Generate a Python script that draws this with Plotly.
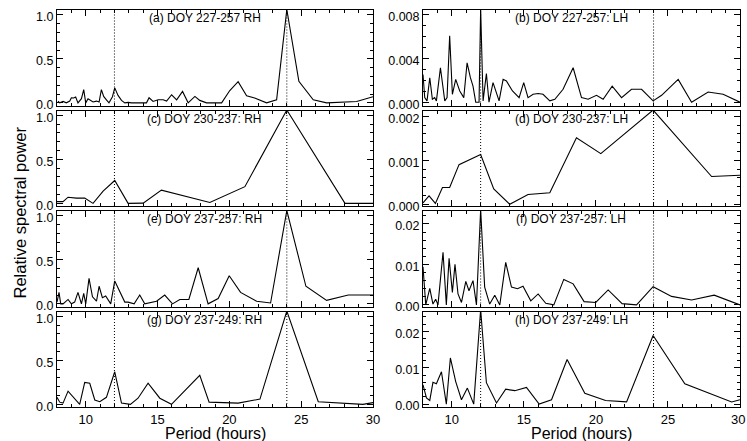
import plotly.graph_objects as go

# ---------------- data (period in hours, relative spectral power) ----------------
period_a = [8.07, 8.19, 8.42, 8.65, 8.89, 9.0, 9.16, 9.30, 9.46, 9.70, 9.86, 10.0, 10.16, 10.33, 10.51,
            10.75, 10.93, 11.09, 11.25, 11.44, 11.62, 11.86, 12.02, 12.25, 12.49, 12.72, 12.95, 13.19,
            13.42, 13.72, 14.0, 14.23, 14.41, 14.69, 15.04, 15.39, 15.63, 15.98, 16.33, 16.74, 17.13,
            17.6, 17.94, 18.41, 18.87, 19.46, 20.03, 20.61, 21.2, 21.76, 22.59, 23.29, 24.0, 24.84,
            25.84, 26.77, 28.86, 30.0]
power_a = [0.02, 0.0, 0.016, 0.0, 0.02, 0.058, 0.055, 0.066, 0.0, 0.047, 0.15, 0.0, 0.047, 0.028, 0.01,
           0.02, 0.01, 0.15, 0.073, 0.035, 0.0, 0.07, 0.17, 0.085, 0.028, 0.0, 0.005, 0.0,
           0.0, 0.003, 0.0, 0.0, 0.058, 0.016, 0.035, 0.035, 0.02, 0.092, 0.035, 0.13, 0.0,
           0.073, 0.028, 0.0, 0.0, 0.0, 0.14, 0.24, 0.08, 0.055, 0.0, 0.035, 1.06, 0.245,
           0.035, 0.0, 0.016, 0.07]

period_b = [8.0, 8.12, 8.28, 8.47, 8.65, 8.81, 8.93, 9.21, 9.51, 9.67, 9.85, 10.04, 10.27, 10.55, 10.83,
            11.06, 11.29, 11.47, 11.66, 11.89, 12.0, 12.17, 12.40, 12.58, 12.86, 13.28, 13.56, 13.79,
            14.21, 14.67, 14.99, 15.29, 15.64, 15.99, 16.33, 16.8, 17.15, 17.72, 18.42, 19.0, 19.46,
            20.04, 20.5, 21.13, 21.78, 22.47, 23.17, 23.97, 24.56, 25.71, 26.64, 27.79, 28.83, 30.0]
power_b = [0.00253, 0.00042, 0.00012, 0.00223, 0.00027, 0.00042, 0.00012, 0.00314, 0.00012, 0.00042,
           0.00606, 0.00072, 0.00208, 0.00102, 0.00042, 0.00359, 0.00223, 0.00147, 0.0, 0.0, 0.0085,
           0.00012, 0.00262, 0.0, 0.00178, 0.00012, 0.00208, 0.00193, 0.00102, 0.00042, 0.00178,
           0.00042, 0.00072, 0.00079, 0.00072, 0.00012, 0.00027, 0.00118, 0.00314, 0.00042, 0.00027,
           0.00063, 0.00027, 0.00147, 0.00042, 0.00118, 0.00118, 0.00012, 0.00063, 0.00208, 0.0,
           0.00093, 0.00072, 0.0]

period_c = [8.0, 8.42, 8.77, 9.35, 9.93, 10.51, 11.21, 12.02, 12.95, 14.0, 15.27, 18.64, 21.08, 24.0,
            28.05, 30.0]
power_c = [0.02, 0.02, 0.07, 0.06, 0.06, 0.0, 0.14, 0.26, 0.0, 0.003, 0.15, 0.01, 0.19, 1.06,
           0.0, 0.0]

period_d = [8.0, 8.42, 8.86, 9.35, 9.85, 10.5, 12.0, 12.91, 14.02, 15.29, 16.8, 18.65, 20.34, 23.97,
            28.03, 30.0]
power_d = [0.00003, 0.00019, 0.00002, 0.00038, 0.00038, 0.0009, 0.00113, 0.00035, 0.0, 0.00022,
           0.00026, 0.00151, 0.00115, 0.00214, 0.00063, 0.00066]

period_e = [8.0, 8.14, 8.26, 8.42, 8.77, 9.0, 9.23, 9.46, 9.70, 9.86, 10.0, 10.23, 10.47, 10.75, 10.93,
            11.16, 11.39, 11.74, 12.02, 12.72, 12.95, 13.37, 13.76, 14.11, 14.93, 15.5, 16.04, 16.55,
            17.18, 17.83, 18.52, 19.22, 19.99, 20.78, 21.9, 22.87, 24.0, 25.33, 26.77, 28.28, 30.0]
power_e = [0.02, 0.13, 0.0, 0.0, 0.05, 0.0, 0.02, 0.13, 0.0, 0.12, 0.0, 0.29, 0.08, 0.03, 0.2,
           0.07, 0.09, 0.0, 0.26, 0.02, 0.02, 0.0, 0.1, 0.0, 0.03, 0.1, 0.0, 0.05,
           0.05, 0.41, 0.0, 0.06, 0.32, 0.13, 0.03, 0.01, 1.06, 0.2, 0.04, 0.1, 0.1]

period_f = [8.0, 8.19, 8.47, 8.69, 8.88, 9.04, 9.39, 9.62, 9.81, 10.04, 10.22, 10.43, 10.67, 10.97,
            11.19, 11.47, 11.71, 12.0, 12.28, 12.63, 12.98, 13.33, 13.74, 14.14, 14.56, 14.94, 15.48,
            15.99, 16.52, 17.08, 17.77, 18.42, 19.18, 19.99, 20.85, 21.82, 22.82, 23.97, 25.25, 26.64,
            28.21, 30.0]
power_f = [0.0094, 0.0, 0.0041, 0.0002, 0.0014, 0.0, 0.013, 0.0, 0.0115, 0.0031, 0.01, 0.0027, 0.0006,
           0.0058, 0.0035, 0.006, 0.0, 0.0235, 0.0044, 0.0002, 0.0024, 0.0, 0.0105, 0.0044, 0.004,
           0.0046, 0.001, 0.0027, 0.0004, 0.0, 0.0063, 0.0052, 0.0008, 0.0006, 0.0037, 0.0003, 0.0,
           0.0045, 0.0021, 0.0012, 0.0024, 0.0]

period_g = [8.0, 8.19, 8.42, 8.77, 9.58, 9.93, 10.28, 10.63, 10.98, 11.44, 12.02, 12.49, 13.11, 13.64,
            14.34, 15.16, 15.97, 17.94, 18.59, 20.61, 22.13, 24.0, 26.19, 29.3, 30.0]
power_g = [0.08, 0.025, 0.014, 0.15, 0.0, 0.25, 0.24, 0.05, 0.03, 0.08, 0.37, 0.014, 0.0, 0.07,
           0.24, 0.07, 0.0, 0.33, 0.025, 0.014, 0.06, 1.06, 0.03, 0.0, 0.02]

period_h = [8.0, 8.24, 8.47, 8.69, 8.93, 9.28, 9.62, 9.9, 10.27, 10.67, 11.08, 11.52, 12.0, 12.40,
            13.1, 13.74, 14.37, 15.18, 16.06, 16.92, 18.0, 19.23, 20.67, 22.13, 23.97, 26.17, 29.42,
            30.0]
power_h = [0.0053, 0.0017, 0.001, 0.006, 0.0056, 0.0089, 0.0, 0.0127, 0.0062, 0.0012, 0.0044, 0.0,
           0.026, 0.0059, 0.0003, 0.0041, 0.0037, 0.0046, 0.0, 0.0012, 0.0123, 0.003, 0.001, 0.0006,
           0.0189, 0.0056, 0.0006, 0.0012]

panel_labels = ["(a) DOY 227-257 RH", "(b) DOY 227-257: LH",
                "(c) DOY 230-237: RH", "(d) DOY 230-237: LH",
                "(e) DOY 237-257: RH", "(f) DOY 237-257: LH",
                "(g) DOY 237-249: RH", "(h) DOY 237-249: LH"]
ref_periods = [12, 24]
x_range = [8, 30]
x_tickvals = [10, 15, 20, 25, 30]
x_title = "Period (hours)"
y_title = "Relative spectral power"

# y-axis setup per panel: (range, tickvals, format, minor dtick)
y_rh = ([-0.03, 1.055], [0.0, 0.5, 1.0], ".1f", 0.1)
y_b = ([-0.0003, 0.0084], [0.0, 0.004, 0.008], ".3f", 0.001)
y_d = ([-0.00004, 0.00213], [0.0, 0.001, 0.002], ".3f", 0.0002)
y_f = ([-0.0004, 0.0232], [0.0, 0.01, 0.02], ".2f", 0.002)
y_h = ([-0.0008, 0.0255], [0.0, 0.01, 0.02], ".2f", 0.002)

series = [(period_a, power_a, y_rh), (period_b, power_b, y_b),
          (period_c, power_c, y_rh), (period_d, power_d, y_d),
          (period_e, power_e, y_rh), (period_f, power_f, y_f),
          (period_g, power_g, y_rh), (period_h, power_h, y_h)]

# ---------------- layout geometry ----------------
W, H = 747, 441
ml, mr, mt, mb = 57, 7, 10, 34
pw = W - ml - mr
ph = H - mt - mb
col_dom = [[0.0, 316 / pw], [366 / pw, 1.0]]
row_h, gap = 95.5, 5.0

FONT = "Liberation Sans, Arial, Helvetica, sans-serif"

fig = go.Figure()
layout = dict(
    width=W, height=H,
    margin=dict(l=ml, r=mr, t=mt, b=mb, pad=0, autoexpand=False),
    paper_bgcolor="white", plot_bgcolor="white",
    showlegend=False,
    font=dict(family=FONT, size=13, color="black"),
    shapes=[], annotations=[],
)

for i, (px, py, ycfg) in enumerate(series):
    n = i + 1
    row, col = divmod(i, 2)
    top = row * (row_h + gap)
    bot = top + row_h
    ydom = [max(0.0, 1 - bot / ph), 1 - top / ph]
    xname = "xaxis" if n == 1 else f"xaxis{n}"
    yname = "yaxis" if n == 1 else f"yaxis{n}"
    xref = "x" if n == 1 else f"x{n}"
    yref = "y" if n == 1 else f"y{n}"

    fig.add_trace(go.Scatter(x=px, y=py, mode="lines", xaxis=xref, yaxis=yref,
                             line=dict(color="black", width=1.1), hoverinfo="skip"))

    # the last tick label of the right column sits on the page edge; it is written as a
    # right-anchored paper annotation that ends at the page edge (centred on x = 30)
    edge_col = (col == 1)
    yr, ytv, yfmt, ymin = ycfg
    layout[xname] = dict(
        domain=col_dom[col], anchor=yref, range=x_range, automargin=False,
        showline=True, linecolor="black", linewidth=1, mirror="allticks",
        ticks="inside", ticklen=6, tickcolor="black", tickwidth=1,
        tickvals=x_tickvals,
        ticktext=[("" if (edge_col and v == x_range[1]) else str(v)) for v in x_tickvals],
        showticklabels=(row == 3),
        tickfont=dict(size=13), showgrid=False, zeroline=False,
        minor=dict(ticks="inside", ticklen=3, dtick=1, tick0=8, tickcolor="black", showgrid=False),
    )
    if row == 3 and edge_col:
        frac = (x_tickvals[-1] - x_range[0]) / (x_range[1] - x_range[0])
        xpaper = col_dom[col][0] + frac * (col_dom[col][1] - col_dom[col][0])
        layout["annotations"].append(dict(text=str(x_tickvals[-1]), xref="paper", yref="paper",
                                          x=xpaper, y=0, xanchor="right", yanchor="top",
                                          xshift=7, yshift=-3, showarrow=False,
                                          font=dict(size=13, color="black")))
    layout[yname] = dict(
        domain=ydom, anchor=xref, range=yr, automargin=False,
        showline=True, linecolor="black", linewidth=1, mirror="allticks",
        ticks="inside", ticklen=6, tickcolor="black", tickwidth=1,
        tickvals=ytv, tickformat=yfmt, tickfont=dict(size=12.5),
        ticklabelshift=2,
        showgrid=False, zeroline=False,
        minor=dict(ticks="inside", ticklen=3, dtick=ymin, tick0=0, tickcolor="black", showgrid=False),
    )
    for rp in ref_periods:
        layout["shapes"].append(dict(type="line", xref=xref, yref=f"{yref} domain",
                                     x0=rp, x1=rp, y0=0, y1=1,
                                     line=dict(color="black", width=1, dash="1px,2px")))
    layout["annotations"].append(dict(text=panel_labels[i], xref=xref, yref=f"{yref} domain",
                                      x=18.3, y=1 - 8 / row_h, xanchor="center", yanchor="middle",
                                      showarrow=False, font=dict(size=12, color="black")))

# axis titles
for col in range(2):
    layout["annotations"].append(dict(text=x_title, xref="paper", yref="paper",
                                      x=(col_dom[col][0] + col_dom[col][1]) / 2, y=-26 / ph,
                                      xanchor="center", yanchor="middle", showarrow=False,
                                      font=dict(size=16, color="black")))
layout["annotations"].append(dict(text=y_title, xref="paper", yref="paper",
                                  x=-37 / pw, y=0.49, xanchor="center", yanchor="middle",
                                  textangle=-90, showarrow=False,
                                  font=dict(size=16.5, color="black")))

fig.update_layout(**layout)
fig.write_html("out.html",
               config={"displayModeBar": False},
               post_script="document.body.style.margin='0';document.body.style.padding='0';")
